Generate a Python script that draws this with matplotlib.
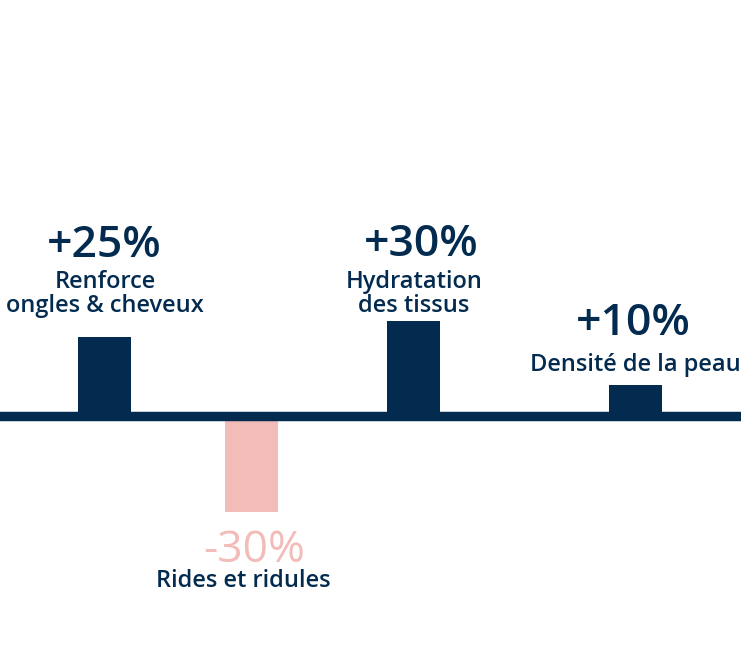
import matplotlib
matplotlib.use("Agg")
import matplotlib.pyplot as plt

# data
categories = ["Renforce\nongles & cheveux", "Rides et ridules",
              "Hydratation\ndes tissus", "Densité de la peau"]
values = [25, -30, 30, 10]
value_labels = ["+25%", "-30%", "+30%", "+10%"]
positions = [104, 251, 413.5, 635]   # horizontal slot of each bar

NAVY = "#022b4f"
PINK = "#f2bcb8"
colors = [NAVY, PINK, NAVY, NAVY]
W, H = 741, 666

plt.rcParams['font.family'] = ['Open Sans', 'DejaVu Sans']

fig = plt.figure(figsize=(W / 100, H / 100), dpi=100)
ax = fig.add_axes([0, 0, 1, 1])

ax.bar(positions, values, width=53, color=colors, zorder=2)
ax.axhline(0, color=NAVY, lw=6.8, zorder=3)

ax.set_xlim(0, W)
ax.set_ylim(-78.5, 131.0)
ax.axis('off')

# text layout (pixel positions of the last text baseline, from the top)
pct_pos = [(104.5, 257), (254.5, 562), (421.5, 256), (633, 335)]
lab_pos = [(105, 312), (243.5, 587), (414, 312), (635, 371)]
line_gap = 24


def fxy(x, y):
    return x / W, 1 - y / H


for i in range(len(values)):
    neg = values[i] < 0
    x, y = fxy(*pct_pos[i])
    fig.text(x, y, value_labels[i], ha='center', va='baseline',
             fontsize=32, fontweight='normal' if neg else 'semibold',
             color=PINK if neg else NAVY)
    lines = categories[i].split("\n")
    for j, line in enumerate(lines):
        px, py = lab_pos[i]
        x, y = fxy(px, py - (len(lines) - 1 - j) * line_gap)
        fig.text(x, y, line, ha='center', va='baseline',
                 fontsize=17, fontweight='semibold', color=NAVY)

fig.savefig("out.png", dpi=100)
